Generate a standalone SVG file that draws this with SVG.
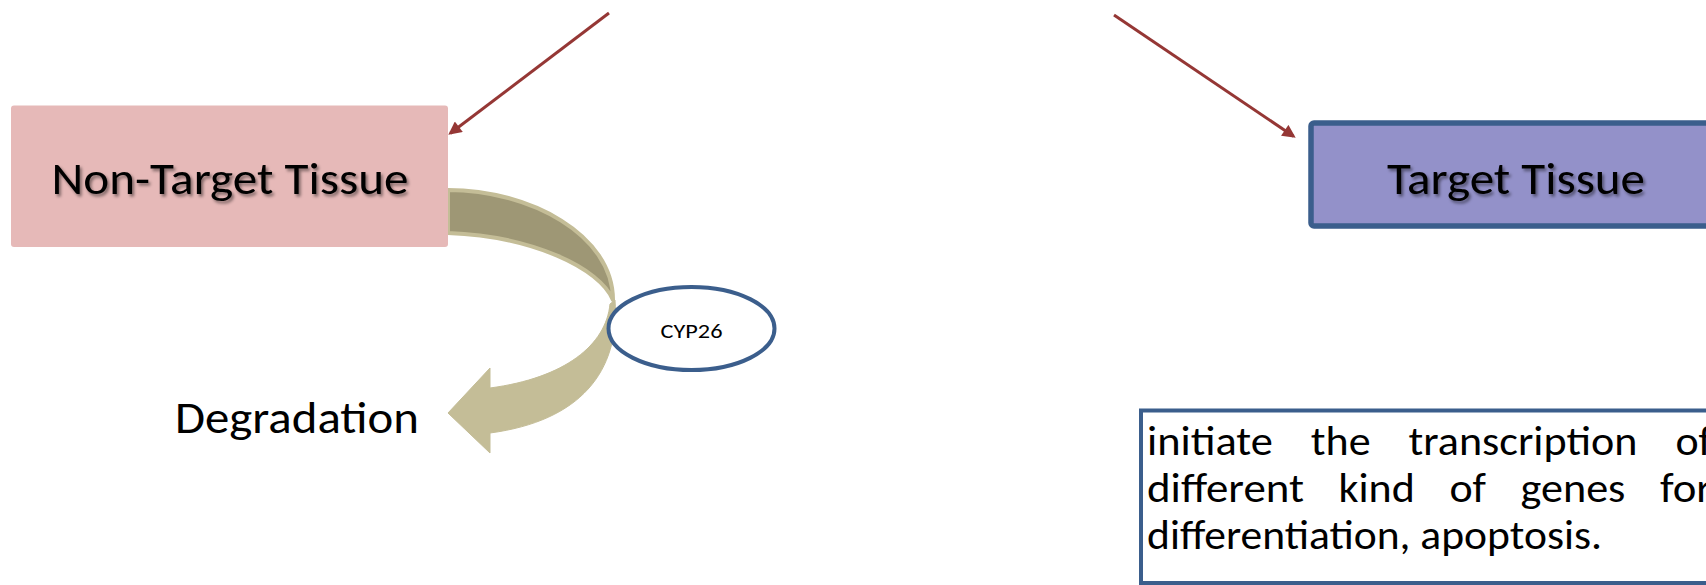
<svg xmlns="http://www.w3.org/2000/svg" width="1706" height="585" viewBox="0 0 1706 585">
<defs>
<style>
.t{font-family:Carlito,Lato,"Liberation Sans",sans-serif;fill:#000}
.big{font-size:45px}
.body{font-size:40px}
.red{stroke:#953735;stroke-width:3;fill:none}
.blue{stroke:#3B5E8C;fill:#fff}
</style>
<marker id="ah" viewBox="0 0 10 10" markerWidth="5" markerHeight="4.4" refX="8" refY="5" orient="auto" markerUnits="strokeWidth">
<path d="M0,0 L10,5 L0,10 z" fill="#953735"/>
</marker>
<filter id="sh" x="-10%" y="-30%" width="120%" height="160%">
<feDropShadow dx="2" dy="2.5" stdDeviation="1.6" flood-color="#000" flood-opacity="0.45"/>
</filter>
</defs>

<g id="connectors">
<line class="red" x1="609" y1="13" x2="450.4" y2="133.2" marker-end="url(#ah)"/>
<line class="red" x1="1114" y1="15" x2="1293.5" y2="136.3" marker-end="url(#ah)"/>
<g id="curved-arrow">
<path d="M448 190 C530 190 613 235 613 300 C600 268 532 236 448 233 Z" fill="#9E9775" stroke="#C4BD97" stroke-width="4" stroke-linejoin="round"/>
<path d="M610 304 C606 345 565 378 490 388 L490 368 L448 413 L490 453 L490 433 C580 421 620 372 615 300 Z" fill="#C4BD97" stroke="#C4BD97" stroke-width="1" stroke-linejoin="round"/>
</g>
</g>

<g id="non-target">
<rect x="11" y="105.5" width="437" height="141.5" rx="3" fill="#E6B9B8"/>
<text class="t big" x="230" y="194" text-anchor="middle" textLength="357" lengthAdjust="spacingAndGlyphs" filter="url(#sh)">Non-Target Tissue</text>
</g>

<g id="target">
<rect x="1311" y="123" width="420" height="103" rx="3" fill="#9391C9" stroke="#3B5E8C" stroke-width="5.5"/>
<text class="t big" x="1516" y="194" text-anchor="middle" textLength="258" lengthAdjust="spacingAndGlyphs" filter="url(#sh)">Target Tissue</text>
</g>

<g id="cyp26">
<ellipse class="blue" cx="691.5" cy="328.5" rx="83" ry="41.5" stroke-width="4"/>
<text class="t" x="691.5" y="338" font-size="21" text-anchor="middle" textLength="62" lengthAdjust="spacingAndGlyphs">CYP26</text>
</g>

<g id="degradation">
<text class="t big" x="175" y="433" textLength="244" lengthAdjust="spacingAndGlyphs">Degradation</text>
</g>

<g id="textbox">
<rect class="blue" x="1141" y="410.5" width="600" height="172.5" stroke-width="4"/>
<text class="t body" y="455">
<tspan x="1147" textLength="125.8" lengthAdjust="spacingAndGlyphs">initiate</tspan>
<tspan x="1310.8" textLength="59.8" lengthAdjust="spacingAndGlyphs">the</tspan>
<tspan x="1408.6" textLength="228.8" lengthAdjust="spacingAndGlyphs">transcription</tspan>
<tspan x="1675.4" textLength="36.6" lengthAdjust="spacingAndGlyphs">of</tspan>
</text>
<text class="t body" y="502">
<tspan x="1147" textLength="157" lengthAdjust="spacingAndGlyphs">different</tspan>
<tspan x="1338.5" textLength="76.3" lengthAdjust="spacingAndGlyphs">kind</tspan>
<tspan x="1449.4" textLength="36.6" lengthAdjust="spacingAndGlyphs">of</tspan>
<tspan x="1520.5" textLength="104.9" lengthAdjust="spacingAndGlyphs">genes</tspan>
<tspan x="1660" textLength="52" lengthAdjust="spacingAndGlyphs">for</tspan>
</text>
<text class="t body" y="549" textLength="455" lengthAdjust="spacingAndGlyphs" x="1147">differentiation, apoptosis.</text>
</g>
</svg>
